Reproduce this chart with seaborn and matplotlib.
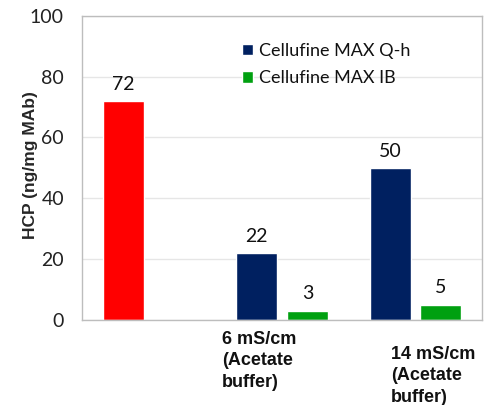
import numpy as np
import pandas as pd
import matplotlib
matplotlib.use("Agg")
import matplotlib.pyplot as plt
import seaborn as sns

# Data
conditions = ["Load", "6 mS/cm", "14 mS/cm"]
condition_labels = ["", "6 mS/cm\n(Acetate\nbuffer)", "14 mS/cm\n(Acetate\nbuffer)"]
series_names = ["Cellufine MAX Q-h", "Cellufine MAX IB"]
qh_values = [72, 22, 50]
ib_values = [np.nan, 3, 5]
series_colors = ["#002060", "#00A010"]
load_color = "#FF0000"

df = pd.DataFrame({
    "condition": conditions * 2,
    "resin": [series_names[0]] * 3 + [series_names[1]] * 3,
    "hcp": qh_values + ib_values,
})

sns.set_theme(style="white")
plt.rcParams["font.family"] = ["Lato", "DejaVu Sans"]

fig = plt.figure(figsize=(4.94, 4.05), dpi=100)
ax = fig.add_axes([0.166, 0.210, 0.810, 0.751])

sns.barplot(data=df, x="condition", y="hcp", hue="resin", order=conditions,
            hue_order=series_names, palette=series_colors, width=0.76, gap=0.19,
            saturation=1, ax=ax, legend=True)

# the load sample is shown in red
ax.containers[0][0].set_facecolor(load_color)

for cont in ax.containers:
    for bar in cont:
        h = bar.get_height()
        if np.isnan(h) or h == 0:
            continue
        ax.annotate(f"{h:.0f}", (bar.get_x() + bar.get_width() / 2, h),
                    xytext=(0, 6), textcoords="offset points",
                    ha="center", va="bottom", fontsize=14, color="#111111")

ax.set_ylim(0, 100)
ax.set_xlim(-0.5, 2.5)
ax.set_yticks([0, 20, 40, 60, 80, 100])
ax.tick_params(axis="y", length=0, pad=13, labelsize=14, labelcolor="#222222")
ax.set_xticks([0, 1, 2])
ax.set_xticklabels([])
ax.tick_params(axis="x", length=0)
ax.grid(axis="y", color="#E6E6E6", linewidth=1)
ax.set_axisbelow(True)
for s in ax.spines.values():
    s.set_color("#BDBDBD")
    s.set_linewidth(1)

ax.set_xlabel("")
ax.set_ylabel("HCP (ng/mg MAb)", fontsize=12.5, fontweight="bold",
              family=["Liberation Sans", "DejaVu Sans"])
ax.yaxis.set_label_coords(-0.11, 0.51)

# category labels below the axis
label_pos = [None, (222 / 494, 1 - 331 / 405), (391 / 494, 1 - 346 / 405)]
for lab, pos in zip(condition_labels, label_pos):
    if pos is None:
        continue
    fig.text(pos[0], pos[1], lab, ha="left", va="top", fontsize=13,
             fontweight="bold", family=["Liberation Sans", "DejaVu Sans"],
             linespacing=1.33, color="#111111")

leg = ax.legend(loc="upper left", bbox_to_anchor=(0.36, 0.965), frameon=False,
                fontsize=13, handlelength=0.6, handleheight=0.6,
                handletextpad=0.35, labelspacing=0.65)
for t in leg.get_texts():
    t.set_color("#111111")

fig.savefig("out.png", dpi=100)
